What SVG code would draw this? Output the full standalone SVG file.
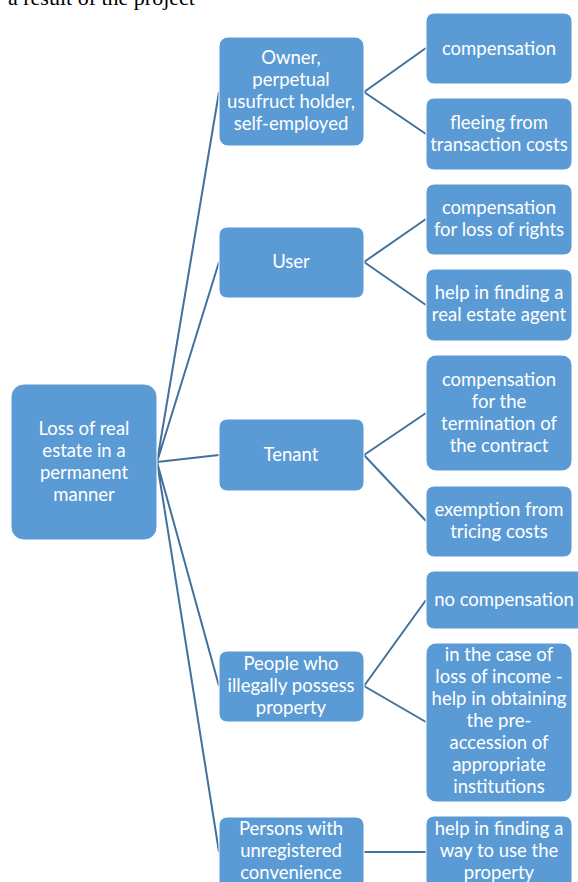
<svg xmlns="http://www.w3.org/2000/svg" width="578" height="882" viewBox="0 0 578 882">
<style>
.box{fill:#5B9BD5;stroke:#ffffff;stroke-width:1}
.t{font-family:Lato,"Open Sans","Liberation Sans",sans-serif;font-size:18.5px;fill:#ffffff;text-anchor:middle}
.c{stroke:#41719C;stroke-width:2;fill:none}
</style>
<rect width="578" height="882" fill="#ffffff"/>
<text x="8" y="5" font-family="Liberation Serif,serif" font-size="22" fill="#000">a result of the project</text>
<g id="connectors">
<path class="c" d="M157 462 L219 92 M157 462 L219 262 M157 462 L219 455 M157 462 L219 686 M157 462 L219 852"/>
<path class="c" d="M364 92 L426 48 M364 92 L426 134 M364 262 L426 219 M364 262 L426 305 M364 455 L426 413 M364 455 L426 521 M364 686 L426 600 M364 686 L426 722 M364 852 L426 852"/>
</g>
<g id="root"><rect class="box" x="11" y="384" width="146" height="156" rx="13"/>
<text class="t"><tspan x="84" y="435">Loss of real</tspan><tspan x="84" y="457">estate in a</tspan><tspan x="84" y="479">permanent</tspan><tspan x="84" y="501">manner</tspan></text></g>
<g id="owner"><rect class="box" x="219" y="37" width="145" height="109" rx="9"/>
<text class="t"><tspan x="291" y="64">Owner,</tspan><tspan x="291" y="86">perpetual</tspan><tspan x="291" y="108">usufruct holder,</tspan><tspan x="291" y="130">self-employed</tspan></text></g>
<g id="user"><rect class="box" x="219" y="227" width="145" height="71" rx="8"/>
<text class="t" x="291" y="268">User</text></g>
<g id="tenant"><rect class="box" x="219" y="419" width="145" height="72" rx="8"/>
<text class="t" x="291" y="461">Tenant</text></g>
<g id="illegal"><rect class="box" x="219" y="651" width="145" height="71" rx="8"/>
<text class="t"><tspan x="291" y="670">People who</tspan><tspan x="291" y="692">illegally possess</tspan><tspan x="291" y="714">property</tspan></text></g>
<g id="unregistered"><rect class="box" x="219" y="817" width="145" height="80" rx="8"/>
<text class="t"><tspan x="291" y="835">Persons with</tspan><tspan x="291" y="857">unregistered</tspan><tspan x="291" y="879">convenience</tspan></text></g>
<g id="compensation"><rect class="box" x="426" y="13" width="146" height="71" rx="8"/>
<text class="t" x="499" y="55">compensation</text></g>
<g id="fleeing"><rect class="box" x="426" y="98" width="146" height="72" rx="8"/>
<text class="t"><tspan x="499" y="129">fleeing from</tspan><tspan x="499" y="151">transaction costs</tspan></text></g>
<g id="comp-rights"><rect class="box" x="426" y="184" width="146" height="71" rx="8"/>
<text class="t"><tspan x="499" y="214">compensation</tspan><tspan x="499" y="236">for loss of rights</tspan></text></g>
<g id="agent"><rect class="box" x="426" y="269" width="146" height="72" rx="8"/>
<text class="t"><tspan x="499" y="299">help in finding a</tspan><tspan x="499" y="321">real estate agent</tspan></text></g>
<g id="comp-contract"><rect class="box" x="426" y="355" width="146" height="116" rx="10"/>
<text class="t"><tspan x="499" y="386">compensation</tspan><tspan x="499" y="408">for the</tspan><tspan x="499" y="430">termination of</tspan><tspan x="499" y="452">the contract</tspan></text></g>
<g id="exemption"><rect class="box" x="426" y="486" width="146" height="71" rx="8"/>
<text class="t"><tspan x="499" y="516">exemption from</tspan><tspan x="499" y="538">tricing costs</tspan></text></g>
<g id="no-comp"><rect class="box" x="426" y="571" width="160" height="58" rx="8"/>
<text class="t" x="504" y="606">no compensation</text></g>
<g id="income"><rect class="box" x="426" y="643" width="146" height="159" rx="10"/>
<text class="t"><tspan x="499" y="661">in the case of</tspan><tspan x="499" y="683">loss of income -</tspan><tspan x="499" y="705">help in obtaining</tspan><tspan x="499" y="727">the pre-</tspan><tspan x="499" y="749">accession of</tspan><tspan x="499" y="771">appropriate</tspan><tspan x="499" y="793">institutions</tspan></text></g>
<g id="way"><rect class="box" x="426" y="816" width="146" height="80" rx="8"/>
<text class="t"><tspan x="499" y="835">help in finding a</tspan><tspan x="499" y="857">way to use the</tspan><tspan x="499" y="879">property</tspan></text></g>
</svg>
